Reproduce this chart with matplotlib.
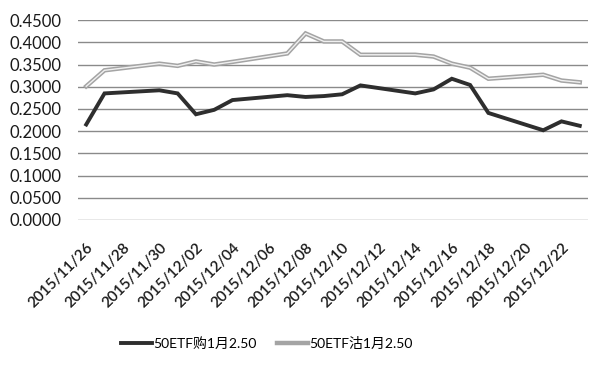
import matplotlib.pyplot as plt
import matplotlib.dates as mdates
import numpy as np

plt.rcParams['font.family'] = ['Lato', 'Noto Sans CJK SC', 'DejaVu Sans']

dates = np.array(['2015-11-26', '2015-11-27', '2015-11-30', '2015-12-01', '2015-12-02',
                  '2015-12-03', '2015-12-04', '2015-12-07', '2015-12-08', '2015-12-09',
                  '2015-12-10', '2015-12-11', '2015-12-14', '2015-12-15', '2015-12-16',
                  '2015-12-17', '2015-12-18', '2015-12-21', '2015-12-22', '2015-12-23'],
                 dtype='datetime64[D]')
call = [0.215, 0.285, 0.292, 0.285, 0.238, 0.248, 0.270, 0.281, 0.277, 0.279,
        0.283, 0.303, 0.285, 0.294, 0.318, 0.304, 0.241, 0.202, 0.222, 0.212]
put = [0.301, 0.337, 0.352, 0.347, 0.357, 0.350, 0.356, 0.375, 0.420, 0.402,
       0.402, 0.372, 0.372, 0.368, 0.352, 0.343, 0.318, 0.327, 0.314, 0.310]
yticks = np.arange(0, 0.4501, 0.05)

fig = plt.figure(figsize=(6, 3.66), dpi=100)
ax = fig.add_axes([0.13, 0.399, 0.85, 0.546])

x = mdates.date2num(dates)
ax.plot(x, call, color='#2e2e2e', lw=2.8, label='50ETF购1月2.50', solid_joinstyle='miter')
ax.plot(x, put, color='#a4a4a4', lw=3.2, label='50ETF沽1月2.50', solid_joinstyle='miter')
ax.plot(x, put, color='#f0f0f0', lw=1.0, solid_joinstyle='miter')

ax.set_ylim(0, 0.45)
ax.set_yticks(yticks)
ax.set_yticklabels(['%.4f' % v for v in yticks])
ax.set_xlim(x[0] - 0.45, x[-1] + 0.45)
xt = mdates.date2num(np.arange(dates[0], dates[-1], 2))
ax.set_xticks(xt)
ax.set_xticklabels([mdates.num2date(v).strftime('%Y/%m/%d') for v in xt],
                   rotation=45, ha='right', rotation_mode='anchor')

ax.grid(axis='y', color='#8a8a8a', lw=1)
ax.set_axisbelow(True)
for s in ax.spines.values():
    s.set_visible(False)
ax.tick_params(axis='y', length=0, pad=12, labelsize=12, labelcolor='#1a1a1a')
ax.tick_params(axis='x', length=0, pad=15, labelsize=11, labelcolor='#1a1a1a')
for t in ax.get_xticklabels():
    t.set_fontweight('semibold')

fig.legend(loc='center', bbox_to_anchor=(0.445, 0.063), ncol=2, frameon=False,
           fontsize=10, handlelength=2.2, handletextpad=0.1, columnspacing=1.5)

fig.savefig('out.png', dpi=100)
